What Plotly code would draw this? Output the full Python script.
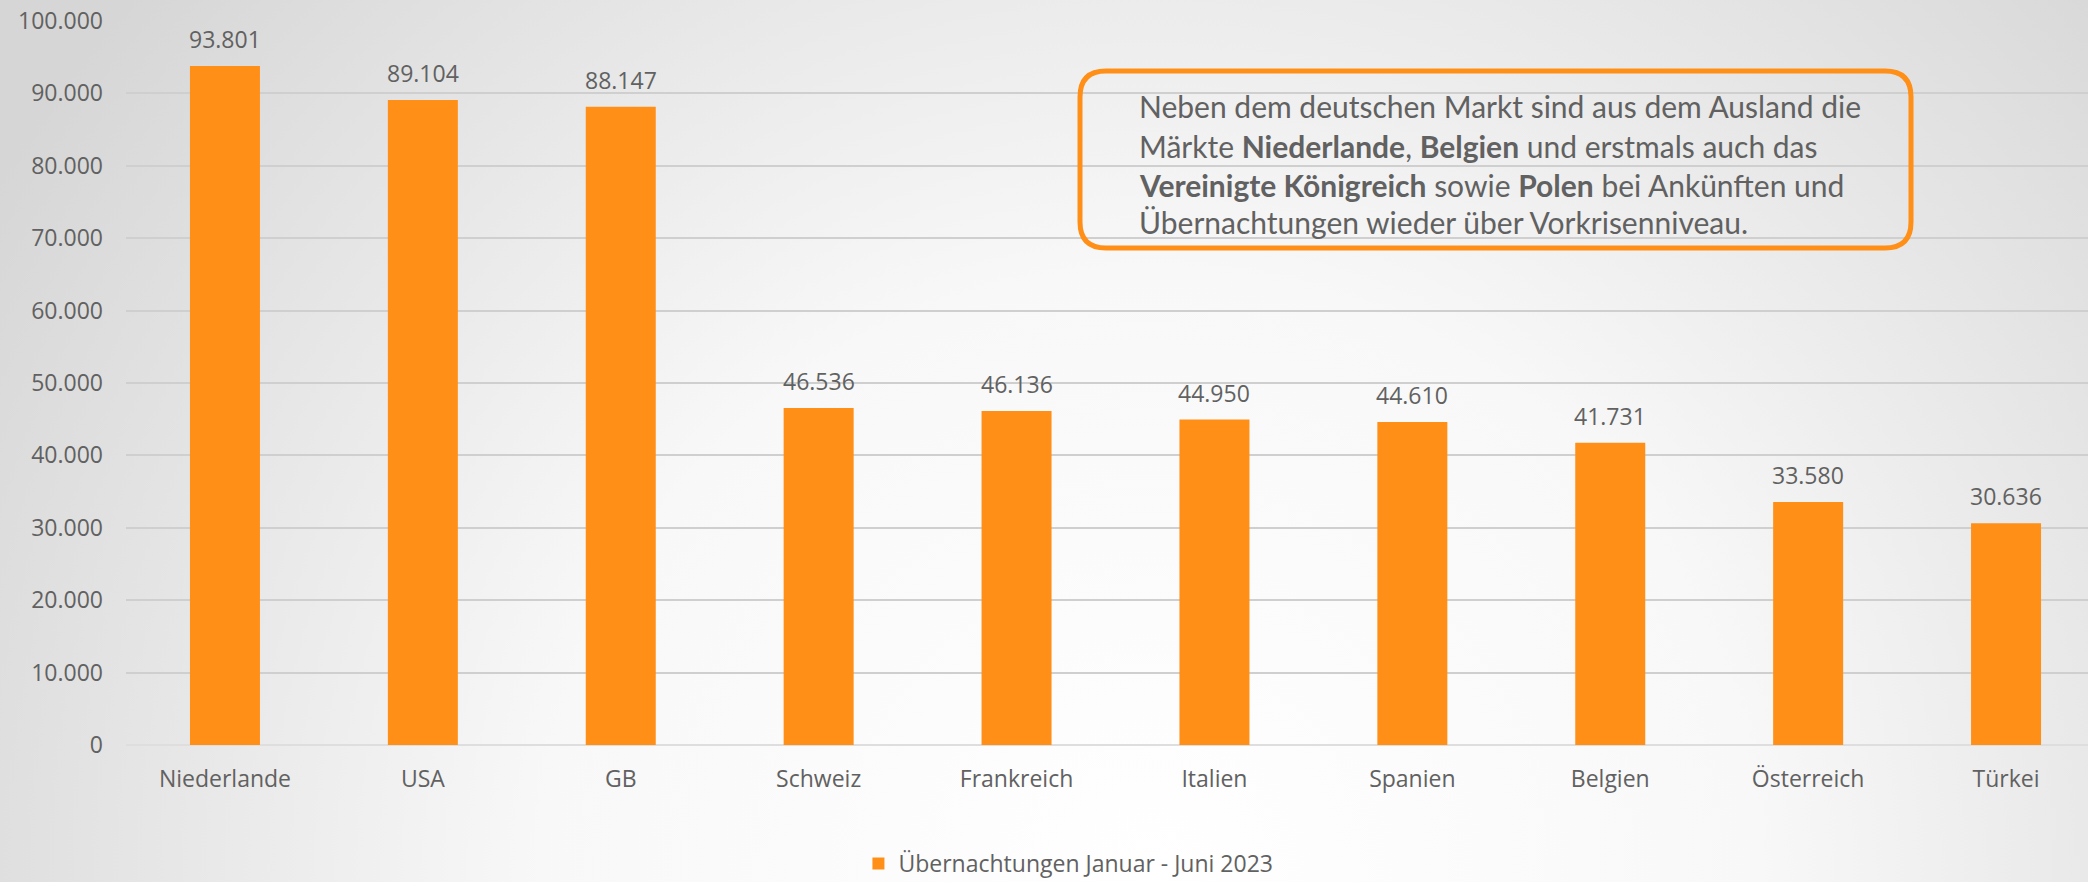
import base64
import plotly.graph_objects as go

categories = ["Niederlande", "USA", "GB", "Schweiz", "Frankreich", "Italien",
              "Spanien", "Belgien", "Österreich", "Türkei"]
values = [93801, 89104, 88147, 46536, 46136, 44950, 44610, 41731, 33580, 30636]
series_name = "Übernachtungen Januar - Juni 2023"
y_ticks = [0, 10000, 20000, 30000, 40000, 50000, 60000, 70000, 80000, 90000, 100000]
note_lines = [
    "Neben dem deutschen Markt sind aus dem Ausland die",
    "Märkte <b>Niederlande</b>, <b>Belgien</b> und erstmals auch das",
    "<b>Vereinigte Königreich</b> sowie <b>Polen</b> bei Ankünften und",
    "Übernachtungen wieder über Vorkrisenniveau.",
]

W, H = 2088, 882
ML, MR, MT, MB = 126, 0, 21, 137
PW, PH = W - ML - MR, H - MT - MB
CAT_W = 197.9
ORANGE = "#FF8F17"
GREY_TXT = "#616161"


def fmt(v):
    return f"{v:,}".replace(",", ".")


def px2paper(x, y):
    return (x - ML) / PW, (H - MB - y) / PH


svg = f'''<svg xmlns="http://www.w3.org/2000/svg" width="{W}" height="{H}" viewBox="0 0 {W} {H}">
<defs><radialGradient id="g" gradientUnits="userSpaceOnUse" cx="1150" cy="880" r="1350">
<stop offset="0" stop-color="#ffffff"/><stop offset="0.45" stop-color="#f8f8f8"/>
<stop offset="1" stop-color="#d6d6d6"/></radialGradient></defs>
<rect x="0" y="0" width="{W}" height="{H}" fill="url(#g)"/></svg>'''
bg_src = "data:image/svg+xml;base64," + base64.b64encode(svg.encode()).decode()

fig = go.Figure()
fig.add_trace(go.Bar(
    x=categories, y=values, name=series_name,
    marker=dict(color=ORANGE, line=dict(width=0)),
    width=70 / CAT_W, showlegend=True,
))

for c, v in zip(categories, values):
    fig.add_annotation(x=c, y=v, text=fmt(v), showarrow=False, yanchor="middle",
                       yshift=27, font=dict(family="Open Sans", size=23, color=GREY_TXT))

# rounded box
L, T, R, B, r = 1080, 71, 1911, 248, 26


def P(x, y):
    a, b = px2paper(x, y)
    return f"{a:.5f},{b:.5f}"


path = (f"M {P(L + r, T)} L {P(R - r, T)} Q {P(R, T)} {P(R, T + r)} "
        f"L {P(R, B - r)} Q {P(R, B)} {P(R - r, B)} "
        f"L {P(L + r, B)} Q {P(L, B)} {P(L, B - r)} "
        f"L {P(L, T + r)} Q {P(L, T)} {P(L + r, T)} Z")
fig.add_shape(type="path", path=path, xref="paper", yref="paper",
              line=dict(color=ORANGE, width=5), fillcolor="rgba(0,0,0,0)")

line_y = [106, 146, 185, 222]
for txt, ly in zip(note_lines, line_y):
    xa, ya = px2paper(1137, ly)
    fig.add_annotation(x=xa, y=ya, xref="paper", yref="paper", text=txt,
                       showarrow=False, xanchor="left", yanchor="middle", align="left",
                       font=dict(family="Lato", size=30, color=GREY_TXT))

fig.update_layout(
    width=W, height=H,
    margin=dict(l=ML, r=MR, t=MT, b=MB, autoexpand=False),
    paper_bgcolor="#ececec", plot_bgcolor="rgba(0,0,0,0)",
    separators=",.",
    font=dict(family="Open Sans", size=23, color=GREY_TXT),
    images=[dict(source=bg_src, xref="paper", yref="paper",
                 x=-ML / PW, y=1 + MT / PH, sizex=W / PW, sizey=H / PH,
                 xanchor="left", yanchor="top", sizing="stretch", layer="below")],
    xaxis=dict(range=[-0.5, -0.5 + PW / CAT_W], showgrid=False, showline=False,
               zeroline=False, ticks="", ticklabelstandoff=18,
               tickfont=dict(family="Open Sans", size=23, color=GREY_TXT)),
    yaxis=dict(range=[0, 100000], tickvals=y_ticks, tickformat=",d",
               showgrid=True, gridcolor="#cfcfcf", gridwidth=2,
               zeroline=True, zerolinecolor="#dedede", zerolinewidth=2,
               showline=False, ticks="", ticklabelstandoff=22,
               tickfont=dict(family="Open Sans", size=23, color=GREY_TXT)),
    legend=dict(orientation="h", xref="container", yref="container",
                x=0.5117, y=0.021, xanchor="center", yanchor="middle",
                bgcolor="rgba(0,0,0,0)", font=dict(family="Open Sans", size=23, color=GREY_TXT)),
    bargap=0.5,
)

fig.write_html("out.html", config={"displayModeBar": False},
               post_script="document.body.style.margin='0';document.body.style.overflow='hidden';")
